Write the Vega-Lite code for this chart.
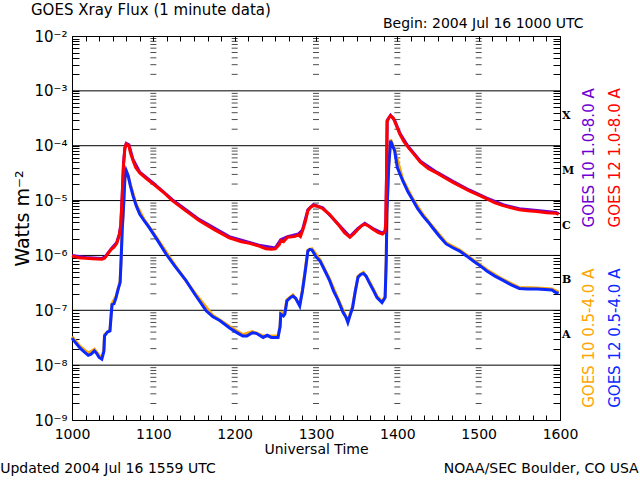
{
  "$schema": "https://vega.github.io/schema/vega-lite/v6.json",
  "description": "GOES Xray Flux, 1 minute data, 2004 Jul 16",
  "autosize": "none",
  "padding": {"left": 72, "top": 36, "right": 80, "bottom": 60},
  "width": 488,
  "height": 384,
  "background": "white",
  "title": {"text": "GOES Xray Flux (1 minute data)", "anchor": "start", "frame": "group", "dx": -41, "offset": -2, "fontSize": 15, "fontWeight": "normal", "font": "DejaVu Sans", "color": "black"},
  "config": {
    "font": "DejaVu Sans",
    "view": {"stroke": "black", "strokeWidth": 1},
    "axis": {"grid": false, "domain": false, "tickColor": "black", "tickWidth": 1, "labelColor": "black", "titleColor": "black", "labelFont": "DejaVu Sans", "titleFont": "DejaVu Sans", "titleFontWeight": "normal", "labelOverlap": false, "labelFlush": false, "labelBound": false}
  },
  "datasets": {
    "g12l": [
      {"t": 0, "f": 9.8e-7}, {"t": 5, "f": 9.1e-7}, {"t": 10, "f": 8.9e-7}, {"t": 15, "f": 8.7e-7}, {"t": 22, "f": 8.5e-7},
      {"t": 24, "f": 8.9e-7}, {"t": 25, "f": 9.5e-7}, {"t": 27, "f": 1.12e-6}, {"t": 29, "f": 1.29e-6}, {"t": 31, "f": 1.41e-6},
      {"t": 33, "f": 1.66e-6}, {"t": 35, "f": 2.4e-6}, {"t": 36, "f": 3.5e-6}, {"t": 37, "f": 1.15e-5}, {"t": 38, "f": 4.5e-5},
      {"t": 39, "f": 8.9e-5}, {"t": 40, "f": 1.07e-4}, {"t": 42, "f": 1.0e-4}, {"t": 43, "f": 7.6e-5}, {"t": 45, "f": 5.4e-5},
      {"t": 47, "f": 4.0e-5}, {"t": 50, "f": 3.2e-5}, {"t": 55, "f": 2.5e-5}, {"t": 60, "f": 2.0e-5}, {"t": 67, "f": 1.45e-5},
      {"t": 74, "f": 1.0e-5}, {"t": 84, "f": 6.5e-6}, {"t": 94, "f": 4.3e-6}, {"t": 105, "f": 2.95e-6}, {"t": 116, "f": 2.1e-6},
      {"t": 125, "f": 1.78e-6}, {"t": 131, "f": 1.66e-6}, {"t": 138, "f": 1.48e-6}, {"t": 143, "f": 1.32e-6}, {"t": 147, "f": 1.29e-6},
      {"t": 150, "f": 1.32e-6}, {"t": 153, "f": 1.58e-6}, {"t": 154, "f": 1.86e-6}, {"t": 156, "f": 1.78e-6}, {"t": 159, "f": 2.14e-6},
      {"t": 164, "f": 2.2e-6}, {"t": 167, "f": 2.35e-6}, {"t": 168.5, "f": 2.2e-6}, {"t": 170, "f": 2.8e-6}, {"t": 172, "f": 4.0e-6},
      {"t": 174, "f": 6.5e-6}, {"t": 176, "f": 7.6e-6}, {"t": 178, "f": 8.1e-6}, {"t": 181, "f": 7.9e-6}, {"t": 185, "f": 7.1e-6},
      {"t": 190, "f": 5.6e-6}, {"t": 194, "f": 4.3e-6}, {"t": 197, "f": 3.5e-6}, {"t": 201, "f": 2.6e-6}, {"t": 205, "f": 2.14e-6},
      {"t": 208, "f": 2.5e-6}, {"t": 211, "f": 3.0e-6}, {"t": 214, "f": 3.55e-6}, {"t": 216, "f": 3.7e-6}, {"t": 219, "f": 3.4e-6},
      {"t": 222, "f": 3.0e-6}, {"t": 226, "f": 2.6e-6}, {"t": 229, "f": 2.45e-6}, {"t": 231, "f": 2.7e-6}, {"t": 231.5, "f": 4.0e-6},
      {"t": 232, "f": 2.5e-5}, {"t": 232.5, "f": 2.8e-4}, {"t": 234, "f": 3.3e-4}, {"t": 235, "f": 3.5e-4}, {"t": 237, "f": 3.2e-4},
      {"t": 238, "f": 2.8e-4}, {"t": 240, "f": 2.1e-4}, {"t": 242, "f": 1.6e-4}, {"t": 245, "f": 1.17e-4}, {"t": 248, "f": 9.3e-5},
      {"t": 252, "f": 7.1e-5}, {"t": 257, "f": 5.0e-5}, {"t": 263, "f": 3.8e-5}, {"t": 269, "f": 3.2e-5}, {"t": 275, "f": 2.6e-5},
      {"t": 281, "f": 2.15e-5}, {"t": 287, "f": 1.8e-5}, {"t": 293, "f": 1.5e-5}, {"t": 300, "f": 1.26e-5}, {"t": 306, "f": 1.07e-5},
      {"t": 312, "f": 9.1e-6}, {"t": 318, "f": 8.1e-6}, {"t": 324, "f": 7.4e-6}, {"t": 330, "f": 6.8e-6}, {"t": 336, "f": 6.5e-6},
      {"t": 343, "f": 6.3e-6}, {"t": 350, "f": 6.0e-6}, {"t": 357, "f": 5.9e-6}, {"t": 359, "f": 5.6e-6}
    ],
    "g10l": [
      {"t": 0, "f": 1.0e-6}, {"t": 10, "f": 9.2e-7}, {"t": 22, "f": 8.8e-7}, {"t": 25, "f": 9.8e-7}, {"t": 29, "f": 1.33e-6},
      {"t": 33, "f": 1.72e-6}, {"t": 35, "f": 2.5e-6}, {"t": 36, "f": 3.6e-6}, {"t": 37, "f": 1.2e-5}, {"t": 38, "f": 4.7e-5},
      {"t": 39, "f": 9.2e-5}, {"t": 40, "f": 1.1e-4}, {"t": 42, "f": 1.04e-4}, {"t": 45, "f": 5.6e-5}, {"t": 50, "f": 3.3e-5},
      {"t": 60, "f": 2.08e-5}, {"t": 74, "f": 1.04e-5}, {"t": 94, "f": 4.5e-6}, {"t": 116, "f": 2.2e-6}, {"t": 138, "f": 1.54e-6},
      {"t": 150, "f": 1.37e-6}, {"t": 154, "f": 1.93e-6}, {"t": 159, "f": 2.2e-6}, {"t": 167, "f": 2.45e-6}, {"t": 170, "f": 2.9e-6},
      {"t": 174, "f": 6.8e-6}, {"t": 178, "f": 8.4e-6}, {"t": 185, "f": 7.4e-6}, {"t": 197, "f": 3.6e-6}, {"t": 205, "f": 2.2e-6},
      {"t": 211, "f": 3.1e-6}, {"t": 216, "f": 3.85e-6}, {"t": 222, "f": 3.1e-6}, {"t": 229, "f": 2.55e-6}, {"t": 231, "f": 2.8e-6},
      {"t": 231.5, "f": 4.2e-6}, {"t": 232, "f": 2.6e-5}, {"t": 232.5, "f": 2.9e-4}, {"t": 235, "f": 3.6e-4}, {"t": 238, "f": 2.9e-4},
      {"t": 242, "f": 1.66e-4}, {"t": 248, "f": 9.7e-5}, {"t": 257, "f": 5.2e-5}, {"t": 269, "f": 3.3e-5}, {"t": 281, "f": 2.24e-5},
      {"t": 293, "f": 1.56e-5}, {"t": 306, "f": 1.11e-5}, {"t": 318, "f": 8.4e-6}, {"t": 330, "f": 7.1e-6}, {"t": 343, "f": 6.6e-6},
      {"t": 357, "f": 6.1e-6}, {"t": 359, "f": 5.8e-6}
    ],
    "g12s": [
      {"t": 0, "f": 3.1e-8}, {"t": 3, "f": 2.5e-8}, {"t": 6, "f": 2.04e-8}, {"t": 9, "f": 1.74e-8}, {"t": 12, "f": 1.51e-8},
      {"t": 14, "f": 1.58e-8}, {"t": 16.5, "f": 1.82e-8}, {"t": 18, "f": 1.66e-8}, {"t": 20, "f": 1.38e-8}, {"t": 22, "f": 1.29e-8},
      {"t": 23.5, "f": 1.78e-8}, {"t": 24, "f": 3.4e-8}, {"t": 26, "f": 4.0e-8}, {"t": 28, "f": 4.2e-8}, {"t": 29.5, "f": 1.26e-7},
      {"t": 31, "f": 1.32e-7}, {"t": 32.5, "f": 1.7e-7}, {"t": 34, "f": 2.4e-7}, {"t": 35.5, "f": 3.2e-7}, {"t": 36.3, "f": 9.1e-7},
      {"t": 37, "f": 2.8e-6}, {"t": 38, "f": 7.4e-6}, {"t": 39, "f": 2.5e-5}, {"t": 40, "f": 3.5e-5}, {"t": 41.5, "f": 2.8e-5},
      {"t": 43, "f": 1.9e-5}, {"t": 45, "f": 1.23e-5}, {"t": 47.5, "f": 7.9e-6}, {"t": 50, "f": 5.6e-6}, {"t": 53.5, "f": 4.2e-6},
      {"t": 57, "f": 3.2e-6}, {"t": 63, "f": 1.9e-6}, {"t": 69.5, "f": 1.05e-6}, {"t": 76, "f": 6.3e-7}, {"t": 84, "f": 3.5e-7},
      {"t": 91, "f": 1.9e-7}, {"t": 99, "f": 9.8e-8}, {"t": 104, "f": 7.6e-8}, {"t": 109, "f": 6.5e-8}, {"t": 116, "f": 4.8e-8},
      {"t": 121, "f": 4.0e-8}, {"t": 126, "f": 3.4e-8}, {"t": 129, "f": 3.4e-8}, {"t": 133, "f": 3.9e-8}, {"t": 136, "f": 3.8e-8},
      {"t": 141, "f": 3.2e-8}, {"t": 144, "f": 3.5e-8}, {"t": 147, "f": 3.2e-8}, {"t": 152, "f": 3.2e-8}, {"t": 153.5, "f": 5.0e-8},
      {"t": 154, "f": 8.5e-8}, {"t": 156, "f": 7.9e-8}, {"t": 157, "f": 8.5e-8}, {"t": 158.5, "f": 1.48e-7}, {"t": 161, "f": 1.7e-7},
      {"t": 163, "f": 1.82e-7}, {"t": 165, "f": 1.66e-7}, {"t": 168, "f": 1.2e-7}, {"t": 170, "f": 2.24e-7}, {"t": 172, "f": 5.0e-7},
      {"t": 174, "f": 1.2e-6}, {"t": 175.5, "f": 1.29e-6}, {"t": 177, "f": 1.26e-6}, {"t": 180, "f": 9.5e-7}, {"t": 183, "f": 7.9e-7},
      {"t": 186, "f": 5.6e-7}, {"t": 190, "f": 3.5e-7}, {"t": 193, "f": 2.24e-7}, {"t": 196, "f": 1.58e-7}, {"t": 200, "f": 9.1e-8},
      {"t": 202, "f": 7.6e-8}, {"t": 203.5, "f": 6.0e-8}, {"t": 205, "f": 7.9e-8}, {"t": 207, "f": 1.12e-7}, {"t": 209, "f": 2.24e-7},
      {"t": 211, "f": 4.0e-7}, {"t": 213, "f": 4.5e-7}, {"t": 215, "f": 4.7e-7}, {"t": 217, "f": 4.2e-7}, {"t": 219, "f": 3.3e-7},
      {"t": 222, "f": 2.4e-7}, {"t": 225, "f": 1.7e-7}, {"t": 228.7, "f": 1.38e-7}, {"t": 231, "f": 1.7e-7}, {"t": 231.8, "f": 7.9e-7},
      {"t": 232.3, "f": 5.8e-6}, {"t": 233.6, "f": 4.0e-5}, {"t": 235, "f": 1.23e-4}, {"t": 236.5, "f": 1.0e-4}, {"t": 238, "f": 8.1e-5},
      {"t": 240, "f": 4.0e-5}, {"t": 244, "f": 2.3e-5}, {"t": 248, "f": 1.41e-5}, {"t": 251.6, "f": 1.0e-5}, {"t": 255, "f": 7.1e-6},
      {"t": 259, "f": 5.2e-6}, {"t": 263, "f": 4.0e-6}, {"t": 266, "f": 3.2e-6}, {"t": 271, "f": 2.24e-6}, {"t": 276, "f": 1.62e-6},
      {"t": 281, "f": 1.38e-6}, {"t": 286, "f": 1.2e-6}, {"t": 291, "f": 9.8e-7}, {"t": 296, "f": 7.9e-7}, {"t": 301, "f": 6.5e-7},
      {"t": 306, "f": 5.2e-7}, {"t": 312, "f": 4.2e-7}, {"t": 318, "f": 3.5e-7}, {"t": 324, "f": 2.9e-7}, {"t": 330, "f": 2.5e-7},
      {"t": 336, "f": 2.45e-7}, {"t": 343, "f": 2.45e-7}, {"t": 349, "f": 2.4e-7}, {"t": 354, "f": 2.35e-7}, {"t": 357, "f": 2.1e-7},
      {"t": 359, "f": 2.04e-7}
    ],
    "g10s": [
      {"t": 0, "f": 3.3e-8}, {"t": 6, "f": 2.2e-8}, {"t": 12, "f": 1.65e-8}, {"t": 16.5, "f": 1.95e-8}, {"t": 20, "f": 1.5e-8},
      {"t": 22, "f": 1.4e-8}, {"t": 23.5, "f": 1.9e-8}, {"t": 24, "f": 3.6e-8}, {"t": 28, "f": 4.4e-8}, {"t": 29.5, "f": 1.32e-7},
      {"t": 32.5, "f": 1.8e-7}, {"t": 35.5, "f": 3.4e-7}, {"t": 36.3, "f": 9.6e-7}, {"t": 37, "f": 2.95e-6}, {"t": 38, "f": 7.8e-6},
      {"t": 39, "f": 2.6e-5}, {"t": 40, "f": 3.6e-5}, {"t": 43, "f": 2.0e-5}, {"t": 47.5, "f": 8.3e-6}, {"t": 53.5, "f": 4.4e-6},
      {"t": 63, "f": 2.0e-6}, {"t": 76, "f": 6.6e-7}, {"t": 91, "f": 2.0e-7}, {"t": 104, "f": 8.0e-8}, {"t": 116, "f": 5.1e-8},
      {"t": 126, "f": 3.6e-8}, {"t": 133, "f": 4.1e-8}, {"t": 141, "f": 3.4e-8}, {"t": 147, "f": 3.4e-8}, {"t": 152, "f": 3.4e-8},
      {"t": 153.5, "f": 5.2e-8}, {"t": 154, "f": 9.0e-8}, {"t": 157, "f": 9.0e-8}, {"t": 158.5, "f": 1.55e-7}, {"t": 163, "f": 1.9e-7},
      {"t": 168, "f": 1.27e-7}, {"t": 170, "f": 2.35e-7}, {"t": 174, "f": 1.25e-6}, {"t": 177, "f": 1.32e-6}, {"t": 183, "f": 8.3e-7},
      {"t": 190, "f": 3.7e-7}, {"t": 196, "f": 1.66e-7}, {"t": 203.5, "f": 6.3e-8}, {"t": 207, "f": 1.18e-7}, {"t": 211, "f": 4.2e-7},
      {"t": 215, "f": 4.9e-7}, {"t": 219, "f": 3.5e-7}, {"t": 225, "f": 1.8e-7}, {"t": 228.7, "f": 1.45e-7}, {"t": 231, "f": 1.78e-7},
      {"t": 231.8, "f": 8.3e-7}, {"t": 232.3, "f": 6.1e-6}, {"t": 233.6, "f": 4.2e-5}, {"t": 235, "f": 1.29e-4}, {"t": 238, "f": 8.5e-5},
      {"t": 244, "f": 2.4e-5}, {"t": 251.6, "f": 1.05e-5}, {"t": 259, "f": 5.5e-6}, {"t": 266, "f": 3.35e-6}, {"t": 276, "f": 1.7e-6},
      {"t": 286, "f": 1.26e-6}, {"t": 296, "f": 8.3e-7}, {"t": 306, "f": 5.5e-7}, {"t": 318, "f": 3.65e-7}, {"t": 330, "f": 2.6e-7},
      {"t": 343, "f": 2.55e-7}, {"t": 354, "f": 2.45e-7}, {"t": 359, "f": 2.14e-7}
    ],
    "grid": [{"v": 1e-3}, {"v": 1e-4}, {"v": 1e-5}, {"v": 1e-6}, {"v": 1e-7}, {"v": 1e-8}],
    "minor": [
      {"v": 2e-9}, {"v": 3e-9}, {"v": 4e-9}, {"v": 5e-9}, {"v": 6e-9}, {"v": 7e-9}, {"v": 8e-9}, {"v": 9e-9},
      {"v": 2e-8}, {"v": 3e-8}, {"v": 4e-8}, {"v": 5e-8}, {"v": 6e-8}, {"v": 7e-8}, {"v": 8e-8}, {"v": 9e-8},
      {"v": 2e-7}, {"v": 3e-7}, {"v": 4e-7}, {"v": 5e-7}, {"v": 6e-7}, {"v": 7e-7}, {"v": 8e-7}, {"v": 9e-7},
      {"v": 2e-6}, {"v": 3e-6}, {"v": 4e-6}, {"v": 5e-6}, {"v": 6e-6}, {"v": 7e-6}, {"v": 8e-6}, {"v": 9e-6},
      {"v": 2e-5}, {"v": 3e-5}, {"v": 4e-5}, {"v": 5e-5}, {"v": 6e-5}, {"v": 7e-5}, {"v": 8e-5}, {"v": 9e-5},
      {"v": 2e-4}, {"v": 3e-4}, {"v": 4e-4}, {"v": 5e-4}, {"v": 6e-4}, {"v": 7e-4}, {"v": 8e-4}, {"v": 9e-4},
      {"v": 2e-3}, {"v": 3e-3}, {"v": 4e-3}, {"v": 5e-3}, {"v": 6e-3}, {"v": 7e-3}, {"v": 8e-3}, {"v": 9e-3}
    ],
    "classes": [
      {"cls": "X", "f": 3.5e-4}, {"cls": "M", "f": 3.5e-5}, {"cls": "C", "f": 3.5e-6}, {"cls": "B", "f": 3.5e-7}, {"cls": "A", "f": 3.5e-8}
    ],
    "note": [{"n": 1}]
  },
  "layer": [
    {
      "data": {"name": "grid"},
      "mark": {"type": "rule", "color": "black", "strokeWidth": 1},
      "encoding": {
        "y": {"field": "v", "type": "quantitative", "scale": {"type": "log", "domain": [1e-9, 1e-2], "nice": false}, "axis": null}
      }
    },
    {
      "data": {"name": "minor"},
      "mark": {"type": "tick", "orient": "horizontal", "size": 6, "thickness": 1, "color": "black"},
      "encoding": {
        "x": {"datum": 60, "type": "quantitative", "scale": {"domain": [0, 360], "nice": false, "zero": false},
          "axis": {"orient": "top", "values": [0,10,20,30,40,50,60,70,80,90,100,110,120,130,140,150,160,170,180,190,200,210,220,230,240,250,260,270,280,290,300,310,320,330,340,350,360],
            "labels": false, "tickSize": -5, "title": "Begin: 2004 Jul 16 1000 UTC", "titleFontSize": 14, "titleX": 511, "titleY": -13, "titleAlign": "right", "titleBaseline": "middle", "titleAnchor": null}},
        "y": {"field": "v", "type": "quantitative",
          "axis": {"orient": "right", "values": [1e-9,2e-9,3e-9,4e-9,5e-9,6e-9,7e-9,8e-9,9e-9,1e-8,2e-8,3e-8,4e-8,5e-8,6e-8,7e-8,8e-8,9e-8,1e-7,2e-7,3e-7,4e-7,5e-7,6e-7,7e-7,8e-7,9e-7,1e-6,2e-6,3e-6,4e-6,5e-6,6e-6,7e-6,8e-6,9e-6,1e-5,2e-5,3e-5,4e-5,5e-5,6e-5,7e-5,8e-5,9e-5,1e-4,2e-4,3e-4,4e-4,5e-4,6e-4,7e-4,8e-4,9e-4,1e-3,2e-3,3e-3,4e-3,5e-3,6e-3,7e-3,8e-3,9e-3,1e-2],
            "labels": false, "tickSize": -7, "title": null}}
      }
    },
    {
      "data": {"name": "minor"},
      "mark": {"type": "tick", "orient": "horizontal", "size": 6, "thickness": 1, "color": "black"},
      "encoding": {"x": {"datum": 120, "type": "quantitative", "axis": null}, "y": {"field": "v", "type": "quantitative", "axis": null}}
    },
    {
      "data": {"name": "minor"},
      "mark": {"type": "tick", "orient": "horizontal", "size": 6, "thickness": 1, "color": "black"},
      "encoding": {"x": {"datum": 180, "type": "quantitative", "axis": null}, "y": {"field": "v", "type": "quantitative", "axis": null}}
    },
    {
      "data": {"name": "minor"},
      "mark": {"type": "tick", "orient": "horizontal", "size": 6, "thickness": 1, "color": "black"},
      "encoding": {"x": {"datum": 240, "type": "quantitative", "axis": null}, "y": {"field": "v", "type": "quantitative", "axis": null}}
    },
    {
      "data": {"name": "minor"},
      "mark": {"type": "tick", "orient": "horizontal", "size": 6, "thickness": 1, "color": "black"},
      "encoding": {"x": {"datum": 300, "type": "quantitative", "axis": null}, "y": {"field": "v", "type": "quantitative", "axis": null}}
    },
    {
      "data": {"name": "g10s"},
      "mark": {"type": "line", "color": "#ffa500", "strokeWidth": 3},
      "encoding": {"x": {"field": "t", "type": "quantitative", "axis": null}, "y": {"field": "f", "type": "quantitative", "axis": null}}
    },
    {
      "data": {"name": "g10l"},
      "mark": {"type": "line", "color": "#6e00d2", "strokeWidth": 3},
      "encoding": {"x": {"field": "t", "type": "quantitative", "axis": null}, "y": {"field": "f", "type": "quantitative", "axis": null}}
    },
    {
      "data": {"name": "g12s"},
      "mark": {"type": "line", "color": "#0a28ff", "strokeWidth": 3},
      "encoding": {"x": {"field": "t", "type": "quantitative", "axis": null}, "y": {"field": "f", "type": "quantitative", "axis": null}}
    },
    {
      "data": {"name": "g12l"},
      "mark": {"type": "line", "color": "#ff0000", "strokeWidth": 3},
      "encoding": {
        "x": {"field": "t", "type": "quantitative",
          "axis": {"orient": "bottom", "values": [0,10,20,30,40,50,60,70,80,90,100,110,120,130,140,150,160,170,180,190,200,210,220,230,240,250,260,270,280,290,300,310,320,330,340,350,360],
            "labelExpr": "datum.value % 60 == 0 ? format(1000 + datum.value / 60 * 100, 'd') : ''",
            "tickSize": -5, "labelPadding": 12, "labelFontSize": 14, "title": "Universal Time", "titleFontSize": 14, "titleX": 244, "titleY": 29, "titleBaseline": "middle", "titleAlign": "center"}},
        "y": {"field": "f", "type": "quantitative",
          "axis": {"orient": "left", "values": [1e-9,2e-9,3e-9,4e-9,5e-9,6e-9,7e-9,8e-9,9e-9,1e-8,2e-8,3e-8,4e-8,5e-8,6e-8,7e-8,8e-8,9e-8,1e-7,2e-7,3e-7,4e-7,5e-7,6e-7,7e-7,8e-7,9e-7,1e-6,2e-6,3e-6,4e-6,5e-6,6e-6,7e-6,8e-6,9e-6,1e-5,2e-5,3e-5,4e-5,5e-5,6e-5,7e-5,8e-5,9e-5,1e-4,2e-4,3e-4,4e-4,5e-4,6e-4,7e-4,8e-4,9e-4,1e-3,2e-3,3e-3,4e-3,5e-3,6e-3,7e-3,8e-3,9e-3,1e-2],
            "labelExpr": "abs(log(datum.value) / LN10 - round(log(datum.value) / LN10)) < 0.01 ? '10⁻' + ['⁰', '¹', '²', '³', '⁴', '⁵', '⁶', '⁷', '⁸', '⁹'][-round(log(datum.value) / LN10)] : ''",
            "tickSize": -7, "labelPadding": 12, "labelFontSize": 15, "labelBaseline": "middle",
            "title": "Watts m⁻²", "titleFontSize": 19, "titleX": -50, "titleY": 182, "titleAngle": 270, "titleAlign": "center", "titleBaseline": "middle"}}
      }
    },
    {
      "data": {"name": "classes"},
      "mark": {"type": "text", "align": "left", "baseline": "middle", "dx": 2, "font": "DejaVu Serif", "fontWeight": "bold", "fontSize": 11, "color": "black"},
      "encoding": {"x": {"datum": 360, "type": "quantitative", "axis": null}, "y": {"field": "f", "type": "quantitative", "axis": null}, "text": {"field": "cls"}}
    },
    {
      "data": {"name": "note"},
      "mark": {"type": "text", "angle": 270, "align": "center", "baseline": "middle", "fontSize": 15, "color": "#6e00d2", "text": "GOES 10 1.0-8.0 A"},
      "encoding": {"x": {"datum": 381.5, "type": "quantitative", "axis": null}, "y": {"datum": 6e-5, "type": "quantitative", "axis": null}}
    },
    {
      "data": {"name": "note"},
      "mark": {"type": "text", "angle": 270, "align": "center", "baseline": "middle", "fontSize": 15, "color": "#ff0000", "text": "GOES 12 1.0-8.0 A"},
      "encoding": {"x": {"datum": 400.5, "type": "quantitative", "axis": null}, "y": {"datum": 6e-5, "type": "quantitative", "axis": null}}
    },
    {
      "data": {"name": "note"},
      "mark": {"type": "text", "angle": 270, "align": "center", "baseline": "middle", "fontSize": 15, "color": "#ffa500", "text": "GOES 10 0.5-4.0 A"},
      "encoding": {"x": {"datum": 381.5, "type": "quantitative", "axis": null}, "y": {"datum": 3.1e-8, "type": "quantitative", "axis": null}}
    },
    {
      "data": {"name": "note"},
      "mark": {"type": "text", "angle": 270, "align": "center", "baseline": "middle", "fontSize": 15, "color": "#0a28ff", "text": "GOES 12 0.5-4.0 A"},
      "encoding": {"x": {"datum": 400.5, "type": "quantitative", "axis": null}, "y": {"datum": 3.1e-8, "type": "quantitative", "axis": null}}
    },
    {
      "data": {"name": "note"},
      "mark": {"type": "text", "align": "left", "baseline": "middle", "fontSize": 14, "color": "black", "text": "Updated 2004 Jul 16 1559 UTC"},
      "encoding": {"x": {"datum": -53, "type": "quantitative", "axis": null}, "y": {"datum": 1.28e-10, "type": "quantitative", "axis": null}}
    },
    {
      "data": {"name": "note"},
      "mark": {"type": "text", "align": "right", "baseline": "middle", "fontSize": 14, "color": "black", "text": "NOAA/SEC Boulder, CO USA"},
      "encoding": {"x": {"datum": 418, "type": "quantitative", "axis": null}, "y": {"datum": 1.28e-10, "type": "quantitative", "axis": null}}
    }
  ],
  "resolve": {"axis": {"x": "independent", "y": "independent"}}
}
